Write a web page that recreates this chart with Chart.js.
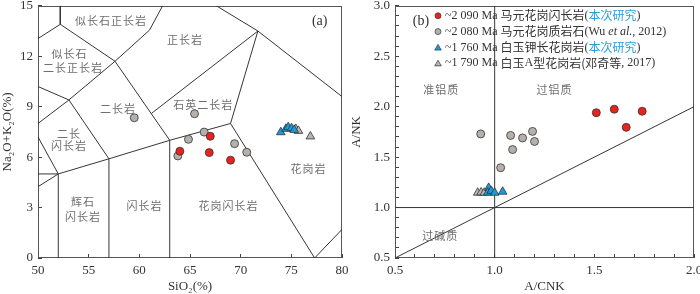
<!DOCTYPE html>
<html><head><meta charset="utf-8">
<script src="https://cdn.jsdelivr.net/npm/chart.js@4.4.0/dist/chart.umd.min.js"></script>
<style>
html,body{margin:0;padding:0;background:#fff;}
#wrap{position:relative;width:700px;height:294px;overflow:hidden;background:#fff;}
canvas{position:absolute;top:0;}
#c1{left:0;}
#c2{left:345px;}
</style></head><body>
<div id="wrap">
<canvas id="c1" width="350" height="294"></canvas>
<canvas id="c2" width="355" height="294"></canvas>
</div>
<script>
// ---------- Panel (a): TAS (SiO2 vs Na2O+K2O) ----------
const aSiO2_2090 = [67.0, 64.0, 66.9, 69.0];
const aAlk_2090  = [7.24, 6.35, 6.27, 5.82];
const aSiO2_2080 = [59.5, 65.45, 63.8, 64.85, 66.4, 69.4, 70.6];
const aAlk_2080  = [8.34, 8.58, 6.07, 7.06, 7.49, 6.80, 6.29];
const aSiO2_1760 = [73.96, 74.46, 74.69, 75.02, 75.28];
const aAlk_1760  = [7.48, 7.68, 7.78, 7.72, 7.62];
const aSiO2_1790 = [75.44, 75.7, 76.88];
const aAlk_1790  = [7.68, 7.56, 7.23];
const aXTicks = [50, 80, 5];   // min, max, step
const aYTicks = [0, 15, 3];
// classification boundaries (data units)
const aBoundaries = [
  [[52.2,15],[52.2,13.9]],
  [[50,13.05],[52.2,13.9],[57.6,11.7]],
  [[57.6,11.7],[61,13.55],[62.3,15]],
  [[50,10.2],[53.05,9.4],[57.6,11.7]],
  [[50,8.0],[53.05,9.4],[57,5.9]],
  [[57.6,11.7],[63,7]],
  [[50,7.2],[52,5]],
  [[50,4.24],[52,5]],
  [[50,5],[52,5]],
  [[52,0],[52,5],[57,5.9],[63,7],[69,8]],
  [[57,0],[57,5.9]],
  [[63,0],[63,7]],
  [[61.2,8.6],[71.7,13.5]],
  [[67.6,15],[71.7,13.5],[80,9.6]],
  [[71.7,13.5],[69,8],[77.3,0],[80,1.7]]
];
const aFieldNames = ['似长石正长岩','正长岩','似长石','二长正长岩','二长岩','石英二长岩','二长','闪长岩','辉石','闪长岩','闪长岩','花岗闪长岩','花岗岩'];
const aFieldX = [57.2, 64.5, 53.1, 53.45, 57.9, 66.3, 53.05, 53.05, 54.43, 54.43, 60.5, 68.8, 76.7];
const aFieldY = [14.1, 12.95, 12.13, 11.34, 8.87, 9.13, 7.4, 6.7, 3.35, 2.46, 3.1, 3.1, 5.28];

// ---------- Panel (b): A/CNK vs A/NK ----------
const bACNK_2090 = [1.51, 1.60, 1.74, 1.66];
const bANK_2090  = [1.94, 1.975, 1.955, 1.795];
const bACNK_2080 = [0.93, 1.08, 1.14, 1.19, 1.20, 1.09, 1.03];
const bANK_2080  = [1.73, 1.715, 1.69, 1.755, 1.655, 1.575, 1.395];
const bACNK_1760 = [0.97, 0.965, 0.983, 1.0, 1.04];
const bANK_1760  = [1.195, 1.147, 1.165, 1.147, 1.157];
const bACNK_1790 = [0.915, 0.932, 0.948];
const bANK_1790  = [1.147, 1.15, 1.147];
const bXTicks = [0.5, 2.0, 0.1];
const bYTicks = [0.5, 3.0, 0.1];
const bBoundaries = [
  [[1.0,0.5],[1.0,3.0]],
  [[0.5,1.0],[2.0,1.0]],
  [[0.5,0.5],[2.0,2.0]]
];
const bFieldNames = ['准铝质','过铝质','过碱质'];
const bFieldX = [0.732, 1.30, 0.727];
const bFieldY = [2.167, 2.167, 0.723];

// legend entries: [marker style, colour key, text segments]
const legendEntries = [
  ['circle','red',  [['~2 090 Ma ','L'],['马元花岗闪长岩','C'],['(','L'],['本次研究','C','#2a9fd8'],[')','L']]],
  ['circle','gray', [['~2 080 Ma ','L'],['马元花岗质岩石','C'],['(Wu ','L'],['et al.','I'],[', 2012)','L']]],
  ['triangle','blue',[['~1 760 Ma ','L'],['白玉钾长花岗岩','C'],['(','L'],['本次研究','C','#2a9fd8'],[')','L']]],
  ['triangle','gtri',[['~1 790 Ma ','L'],['白玉','C'],['A','L'],['型花岗岩','C'],['(邓奇等','C'],[', 2017)','L']]]
];

// ---------- styles ----------
const COLORS = {red:'#e8221e', gray:'#b6b0ac', blue:'#1b9bd7', gtri:'#bab4b0'};
const EDGE = '#333';
const SERIF = '"Liberation Serif","Times New Roman",serif';
const CJK = '"Noto Sans CJK SC"';
const tickFont = {family: SERIF, size: 13};
const titleFont = {family: SERIF, size: 13};

function pts(xs, ys){ return xs.map((v,i)=>({x:v, y:ys[i]})); }
function lineSets(lines){
  return lines.map(l => ({data: l.map(p => ({x:p[0], y:p[1]})), showLine:true, borderColor:'#363636',
    borderWidth:1, pointRadius:0, pointHoverRadius:0, fill:false, tension:0, order:10}));
}
function pointSet(xs, ys, style, col, r, order){
  return {data: pts(xs, ys), pointStyle: style, pointRadius: r, pointHoverRadius: r,
    backgroundColor: COLORS[col], borderColor: EDGE, borderWidth: 0.8, order: order};
}
function zeroPad(s){ s.paddingTop = 0; s.paddingBottom = 0; s.paddingLeft = 0; s.paddingRight = 0; }
const gridOpts = {display:true, drawOnChartArea:false, drawTicks:true, tickLength:-4, color:'#444', lineWidth:1};

function axis(t, titleText, titlePad, size, isX, labelFn){
  return {
    type:'linear', position: isX ? 'bottom' : 'left', min: t[0], max: t[1],
    ticks: {stepSize: t[2], font: tickFont, color:'#333', padding: 9, maxRotation:0, minRotation:0, autoSkip:false,
            callback: labelFn},
    grid: gridOpts, border: {display:false},
    title: {display:true, text: titleText, font: titleFont, color:'#333', padding: {top: titlePad, bottom: 0}},
    afterFit: s => { if (isX) s.height = size; else s.width = size; zeroPad(s); }
  };
}

const framePlugin = {
  id:'frame',
  beforeDatasetsDraw(chart){
    const {ctx, chartArea:a} = chart;
    ctx.save(); ctx.strokeStyle = '#555'; ctx.lineWidth = 1;
    ctx.strokeRect(Math.round(a.left)+0.5, Math.round(a.top)+0.5, Math.round(a.right)-Math.round(a.left)-1, Math.round(a.bottom)-Math.round(a.top)-1);
    ctx.restore();
  }
};
function fieldPlugin(names, xs, ys, tag, tagX, tagY){
  return {
    id:'fields',
    afterDatasetsDraw(chart){
      const {ctx, scales:{x, y}} = chart;
      ctx.save();
      ctx.font = '11px ' + CJK; ctx.fillStyle = '#6e6e6e'; ctx.textAlign = 'center'; ctx.textBaseline = 'middle';
      try { ctx.letterSpacing = '1px'; } catch(e) {}
      names.forEach((n,i) => ctx.fillText(n, x.getPixelForValue(xs[i]), y.getPixelForValue(ys[i])));
      try { ctx.letterSpacing = '0px'; } catch(e) {}
      ctx.font = '14px ' + SERIF; ctx.fillStyle = '#333';
      ctx.fillText(tag, x.getPixelForValue(tagX), y.getPixelForValue(tagY));
      ctx.restore();
    }
  };
}
function drawMarker(ctx, style, col, cx, cy){
  ctx.beginPath();
  if (style === 'circle') { ctx.arc(cx, cy, 3, 0, Math.PI*2); }
  else { const r = 3.8; ctx.moveTo(cx, cy - r); ctx.lineTo(cx + r*0.866, cy + r/2); ctx.lineTo(cx - r*0.866, cy + r/2); ctx.closePath(); }
  ctx.fillStyle = COLORS[col]; ctx.fill();
  ctx.lineWidth = 0.7; ctx.strokeStyle = EDGE; ctx.stroke();
}
const legendPlugin = {
  id:'legendCustom',
  afterDatasetsDraw(chart){
    const {ctx, chartArea:a} = chart;
    ctx.save(); ctx.textBaseline = 'middle'; ctx.textAlign = 'left';
    legendEntries.forEach((e,i) => {
      const cy = a.top + 10 + i*15.8;
      drawMarker(ctx, e[0], e[1], a.left + 43, cy + (e[0]==='triangle' ? 0.8 : 0));
      let cx = a.left + 50;
      e[2].forEach(seg => {
        if (seg[1] === 'C') ctx.font = '12px ' + CJK;
        else if (seg[1] === 'I') ctx.font = 'italic 12px ' + SERIF;
        else ctx.font = '12px ' + SERIF;
        ctx.fillStyle = seg[2] || '#333';
        ctx.fillText(seg[0], cx, cy);
        cx += ctx.measureText(seg[0]).width;
      });
    });
    ctx.restore();
  }
};

const common = {responsive:false, animation:false, events:[], devicePixelRatio:1,
  plugins:{legend:{display:false}, tooltip:{enabled:false}}};

new Chart(document.getElementById('c1'), {
  type:'scatter',
  data:{datasets:[
    ...lineSets(aBoundaries),
    pointSet(aSiO2_2080, aAlk_2080, 'circle', 'gray', 4, 2),
    pointSet(aSiO2_2090, aAlk_2090, 'circle', 'red', 4, 1),
    pointSet(aSiO2_1790, aAlk_1790, 'triangle', 'gtri', 5, 3),
    pointSet(aSiO2_1760, aAlk_1760, 'triangle', 'blue', 5, 1)
  ]},
  options:{...common,
    layout:{padding:{left:0, right:8, top:5, bottom:0}},
    scales:{
      x: axis(aXTicks, 'SiO₂(%)', 0, 36, true, v => String(v)),
      y: axis(aYTicks, 'Na₂O+K₂O(%)', 0, 38, false, v => String(v))
    }
  },
  plugins:[framePlugin, fieldPlugin(aFieldNames, aFieldX, aFieldY, '(a)', 77.8, 14.1)]
});

const halfLabel = v => Math.abs(v*2 - Math.round(v*2)) < 1e-6 ? v.toFixed(1) : '';
new Chart(document.getElementById('c2'), {
  type:'scatter',
  data:{datasets:[
    ...lineSets(bBoundaries),
    pointSet(bACNK_2080, bANK_2080, 'circle', 'gray', 4, 2),
    pointSet(bACNK_2090, bANK_2090, 'circle', 'red', 4, 1),
    pointSet(bACNK_1790, bANK_1790, 'triangle', 'gtri', 5, 3),
    pointSet(bACNK_1760, bANK_1760, 'triangle', 'blue', 5, 1)
  ]},
  options:{...common,
    layout:{padding:{left:0, right:6, top:5, bottom:0}},
    scales:{
      x: axis(bXTicks, 'A/CNK', 0, 36, true, halfLabel),
      y: axis(bYTicks, 'A/NK', 4, 50, false, halfLabel)
    }
  },
  plugins:[framePlugin, fieldPlugin(bFieldNames, bFieldX, bFieldY, '(b)', 0.63, 2.85), legendPlugin]
});
</script>
</body></html>
